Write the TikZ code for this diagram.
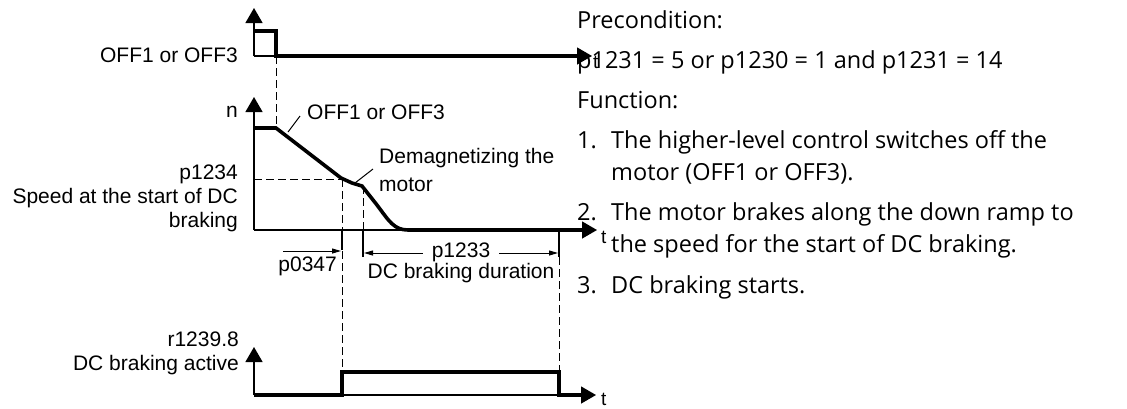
\documentclass[tikz,border=0pt]{standalone}
\usepackage{fontspec}
\setmainfont{Open Sans}
\newfontfamily\arialfont{Liberation Sans}
\usetikzlibrary{arrows.meta}

\begin{document}
\begin{tikzpicture}[x=1pt, y=-1pt,
  axis/.style={line width=1.4pt, -{Triangle[length=15pt,width=17pt]}},
  signal/.style={line width=3.6pt},
  guide/.style={line width=0.9pt, dash pattern=on 8pt off 4pt},
  tick/.style={line width=1.2pt},
  dim/.style={line width=1pt, -{Triangle[length=9pt,width=5pt]}},
  lbl/.style={font=\arialfont\fontsize{21}{24}\selectfont, inner sep=0pt},
  tlbl/.style={font=\arialfont\fontsize{19}{22}\selectfont, inner sep=0pt, anchor=west},
  txt/.style={font=\fontsize{23.5}{28}\selectfont, inner sep=0pt, anchor=base west}]

\useasboundingbox (0,0) rectangle (1127,408);

% --- Description on the right ---
\node[txt] (precond) at (577,28) {Precondition:};
\node[txt] (precondval) at (577,68) {p1231 = 5 or p1230 = 1 and p1231 = 14};
\node[txt] (func) at (577,108) {Function:};
\node[txt] (num1) at (577,148) {1.};
\node[txt] (step1a) at (611,148) {The higher-level control switches off the};
\node[txt] (step1b) at (611,180) {motor (OFF1 or OFF3).};
\node[txt] (num2) at (577,220) {2.};
\node[txt] (step2a) at (611,220) {The motor brakes along the down ramp to};
\node[txt] (step2b) at (611,252) {the speed for the start of DC braking.};
\node[txt] (num3) at (577,293) {3.};
\node[txt] (step3) at (611,293) {DC braking starts.};

% --- Top: OFF command ---
\draw[axis] (254,56) -- (254,8);
\draw[axis] (254,56) -- (592,56);
\draw[signal] (254,31) -- (276,31) -- (276,56) -- (578,56);
\node[lbl, anchor=east] (offtop) at (238,55) {OFF1 or OFF3};
\node[tlbl] (ttop) at (593,62) {t};

% --- Middle: speed n ---
\draw[axis] (254,230) -- (254,97);
\draw[axis] (254,230) -- (597,230);
\draw[signal] (254,128) -- (276,128) -- (341,178) -- (352,183) -- (362,186)
  -- (377,205) .. controls (389,221) and (394,230) .. (408,230) -- (582,230);
\node[lbl, anchor=east] (nlabel) at (238,112) {n};
\node[tlbl] (tmid) at (601,237) {t};

% guide lines
\draw[guide] (276,56) -- (276,128);
\draw[guide] (254,179) -- (341,179);
\draw[guide] (342,179) -- (342,372);
\draw[guide] (363,186) -- (363,230);
\draw[guide] (559,257) -- (559,372);
\draw[tick] (342,230) -- (342,250);
\draw[tick] (363,230) -- (363,257);
\draw[tick] (559,230) -- (559,257);

% ramp labels
\node[lbl, anchor=west] (offramp) at (307,112) {OFF1 or OFF3};
\coordinate (rampPt) at (288,132);
\draw[line width=1pt] (rampPt) -- (300,116);
\node[lbl, anchor=west] (demag) at (379,158) {Demagnetizing the};
\node[lbl, anchor=west] (demag2) at (379,185) {motor};
\coordinate (demagPt) at (355,183);
\draw[line width=1pt] (demagPt) -- (373,169);
\node[lbl, anchor=east, align=right] (spdlabel) at (238,198)
  {p1234\\Speed at the start of DC\\braking};

% times
\draw[dim] (283,251) -- (341,251);
\node[lbl, anchor=east] (p0347) at (337,266) {p0347};
\node[lbl] (p1233) at (461,252) {p1233};
\draw[dim] (p1233.west) ++(-9,1) -- (364,253);
\draw[dim] (p1233.east) ++(9,1) -- (558,253);
\node[lbl] (dcdur) at (461,273) {DC braking duration};

% --- Bottom: DC braking active ---
\draw[axis] (254,395) -- (254,347);
\draw[axis] (254,395) -- (596,395);
\draw[signal] (254,395) -- (342,395) -- (342,372) -- (559,372) -- (559,395) -- (581,395);
\node[lbl, anchor=east, align=right] (dclabel) at (239,353) {r1239.8\\DC braking active};
\node[tlbl] (tbot) at (601,399) {t};

\end{tikzpicture}
\end{document}
